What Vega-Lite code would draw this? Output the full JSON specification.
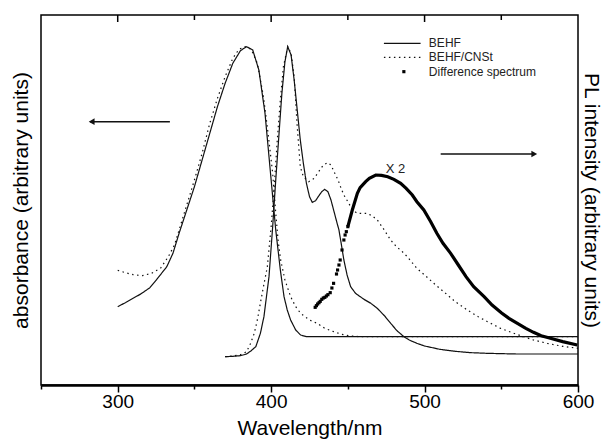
{
  "$schema": "https://vega.github.io/schema/vega-lite/v6.json",
  "width": 537,
  "height": 370,
  "autosize": {"type": "none"},
  "padding": {"left": 41, "top": 15, "right": 27, "bottom": 57},
  "config": {
    "view": {"stroke": "#000", "strokeWidth": 1.5},
    "font": "Liberation Sans",
    "axis": {"grid": false}
  },
  "datasets": {
    "abs": [
      {"x":300,"y":240,"s":"BEHF"},{"x":305,"y":252,"s":"BEHF"},{"x":310,"y":265,"s":"BEHF"},{"x":315,"y":278,"s":"BEHF"},{"x":321,"y":297,"s":"BEHF"},{"x":326,"y":325,"s":"BEHF"},{"x":332,"y":360,"s":"BEHF"},{"x":336,"y":400,"s":"BEHF"},{"x":340,"y":460,"s":"BEHF"},{"x":345,"y":530,"s":"BEHF"},{"x":350,"y":600,"s":"BEHF"},{"x":355,"y":680,"s":"BEHF"},{"x":360,"y":760,"s":"BEHF"},{"x":365,"y":840,"s":"BEHF"},{"x":370,"y":910,"s":"BEHF"},{"x":375,"y":970,"s":"BEHF"},{"x":380,"y":1008,"s":"BEHF"},{"x":384,"y":1020,"s":"BEHF"},{"x":388,"y":1010,"s":"BEHF"},{"x":392,"y":950,"s":"BEHF"},{"x":396,"y":820,"s":"BEHF"},{"x":400,"y":620,"s":"BEHF"},{"x":403,"y":470,"s":"BEHF"},{"x":406,"y":350,"s":"BEHF"},{"x":408.4,"y":270,"s":"BEHF"},{"x":410.5,"y":230,"s":"BEHF"},{"x":412.7,"y":200,"s":"BEHF"},{"x":416,"y":170,"s":"BEHF"},{"x":419.2,"y":155,"s":"BEHF"},{"x":423,"y":150,"s":"BEHF"},{"x":600,"y":150,"s":"BEHF"},
      {"x":300,"y":349,"s":"BEHF/CNSt"},{"x":305,"y":342,"s":"BEHF/CNSt"},{"x":310,"y":336,"s":"BEHF/CNSt"},{"x":316,"y":333,"s":"BEHF/CNSt"},{"x":322,"y":340,"s":"BEHF/CNSt"},{"x":328,"y":356,"s":"BEHF/CNSt"},{"x":333,"y":390,"s":"BEHF/CNSt"},{"x":337,"y":425,"s":"BEHF/CNSt"},{"x":340,"y":470,"s":"BEHF/CNSt"},{"x":345,"y":545,"s":"BEHF/CNSt"},{"x":350,"y":620,"s":"BEHF/CNSt"},{"x":355,"y":700,"s":"BEHF/CNSt"},{"x":360,"y":790,"s":"BEHF/CNSt"},{"x":365,"y":865,"s":"BEHF/CNSt"},{"x":370,"y":930,"s":"BEHF/CNSt"},{"x":375,"y":985,"s":"BEHF/CNSt"},{"x":379,"y":1012,"s":"BEHF/CNSt"},{"x":383,"y":1020,"s":"BEHF/CNSt"},{"x":387,"y":1012,"s":"BEHF/CNSt"},{"x":391,"y":970,"s":"BEHF/CNSt"},{"x":395,"y":870,"s":"BEHF/CNSt"},{"x":398,"y":760,"s":"BEHF/CNSt"},{"x":401,"y":640,"s":"BEHF/CNSt"},{"x":403,"y":520,"s":"BEHF/CNSt"},{"x":404.5,"y":440,"s":"BEHF/CNSt"},{"x":406.2,"y":380,"s":"BEHF/CNSt"},{"x":409,"y":320,"s":"BEHF/CNSt"},{"x":412.7,"y":270,"s":"BEHF/CNSt"},{"x":416,"y":240,"s":"BEHF/CNSt"},{"x":419.2,"y":220,"s":"BEHF/CNSt"},{"x":425,"y":200,"s":"BEHF/CNSt"},{"x":430,"y":190,"s":"BEHF/CNSt"},{"x":435,"y":175,"s":"BEHF/CNSt"},{"x":440.8,"y":165,"s":"BEHF/CNSt"},{"x":446,"y":157,"s":"BEHF/CNSt"},{"x":451.6,"y":152,"s":"BEHF/CNSt"},{"x":458,"y":150,"s":"BEHF/CNSt"},{"x":600,"y":150,"s":"BEHF/CNSt"}
    ],
    "pl": [
      {"x":370,"y":90,"s":"BEHF"},{"x":375,"y":91,"s":"BEHF"},{"x":380,"y":93,"s":"BEHF"},{"x":384,"y":98,"s":"BEHF"},{"x":387,"y":108,"s":"BEHF"},{"x":390,"y":120,"s":"BEHF"},{"x":393,"y":160,"s":"BEHF"},{"x":395.3,"y":210,"s":"BEHF"},{"x":398.6,"y":330,"s":"BEHF"},{"x":401,"y":480,"s":"BEHF"},{"x":403,"y":620,"s":"BEHF"},{"x":405,"y":750,"s":"BEHF"},{"x":407,"y":880,"s":"BEHF"},{"x":409,"y":975,"s":"BEHF"},{"x":410.8,"y":1020,"s":"BEHF"},{"x":413,"y":995,"s":"BEHF"},{"x":415,"y":920,"s":"BEHF"},{"x":417,"y":830,"s":"BEHF"},{"x":419,"y":740,"s":"BEHF"},{"x":421,"y":670,"s":"BEHF"},{"x":423,"y":610,"s":"BEHF"},{"x":425,"y":570,"s":"BEHF"},{"x":426.8,"y":553,"s":"BEHF"},{"x":429,"y":558,"s":"BEHF"},{"x":431,"y":572,"s":"BEHF"},{"x":433,"y":585,"s":"BEHF"},{"x":434.9,"y":592,"s":"BEHF"},{"x":437,"y":585,"s":"BEHF"},{"x":439,"y":560,"s":"BEHF"},{"x":441,"y":525,"s":"BEHF"},{"x":443,"y":490,"s":"BEHF"},{"x":444.2,"y":470,"s":"BEHF"},{"x":446,"y":420,"s":"BEHF"},{"x":447.4,"y":380,"s":"BEHF"},{"x":449.5,"y":335,"s":"BEHF"},{"x":451.8,"y":300,"s":"BEHF"},{"x":455,"y":280,"s":"BEHF"},{"x":460.5,"y":262,"s":"BEHF"},{"x":465,"y":250,"s":"BEHF"},{"x":469.2,"y":235,"s":"BEHF"},{"x":474,"y":212,"s":"BEHF"},{"x":477.9,"y":190,"s":"BEHF"},{"x":482,"y":168,"s":"BEHF"},{"x":486.5,"y":150,"s":"BEHF"},{"x":490,"y":140,"s":"BEHF"},{"x":495,"y":130,"s":"BEHF"},{"x":500,"y":122,"s":"BEHF"},{"x":510,"y":112,"s":"BEHF"},{"x":520,"y":106,"s":"BEHF"},{"x":530,"y":102,"s":"BEHF"},{"x":541,"y":100,"s":"BEHF"},{"x":560,"y":98,"s":"BEHF"},{"x":600,"y":98,"s":"BEHF"},
      {"x":370,"y":90,"s":"BEHF/CNSt"},{"x":375,"y":92,"s":"BEHF/CNSt"},{"x":380,"y":96,"s":"BEHF/CNSt"},{"x":384,"y":105,"s":"BEHF/CNSt"},{"x":386.6,"y":130,"s":"BEHF/CNSt"},{"x":389,"y":160,"s":"BEHF/CNSt"},{"x":391,"y":200,"s":"BEHF/CNSt"},{"x":393.2,"y":256,"s":"BEHF/CNSt"},{"x":395,"y":300,"s":"BEHF/CNSt"},{"x":397.5,"y":359,"s":"BEHF/CNSt"},{"x":400,"y":480,"s":"BEHF/CNSt"},{"x":402,"y":600,"s":"BEHF/CNSt"},{"x":404,"y":740,"s":"BEHF/CNSt"},{"x":406,"y":860,"s":"BEHF/CNSt"},{"x":408,"y":960,"s":"BEHF/CNSt"},{"x":410.8,"y":1020,"s":"BEHF/CNSt"},{"x":413,"y":1000,"s":"BEHF/CNSt"},{"x":415,"y":930,"s":"BEHF/CNSt"},{"x":417,"y":780,"s":"BEHF/CNSt"},{"x":419,"y":660,"s":"BEHF/CNSt"},{"x":421,"y":630,"s":"BEHF/CNSt"},{"x":424.5,"y":615,"s":"BEHF/CNSt"},{"x":428,"y":625,"s":"BEHF/CNSt"},{"x":431,"y":645,"s":"BEHF/CNSt"},{"x":434,"y":665,"s":"BEHF/CNSt"},{"x":436.9,"y":672,"s":"BEHF/CNSt"},{"x":439,"y":665,"s":"BEHF/CNSt"},{"x":441,"y":645,"s":"BEHF/CNSt"},{"x":443.6,"y":620,"s":"BEHF/CNSt"},{"x":446,"y":590,"s":"BEHF/CNSt"},{"x":448,"y":570,"s":"BEHF/CNSt"},{"x":450,"y":555,"s":"BEHF/CNSt"},{"x":453,"y":530,"s":"BEHF/CNSt"},{"x":456.2,"y":520,"s":"BEHF/CNSt"},{"x":462.7,"y":520,"s":"BEHF/CNSt"},{"x":466,"y":512,"s":"BEHF/CNSt"},{"x":469.2,"y":500,"s":"BEHF/CNSt"},{"x":473,"y":475,"s":"BEHF/CNSt"},{"x":477.9,"y":440,"s":"BEHF/CNSt"},{"x":482,"y":418,"s":"BEHF/CNSt"},{"x":484.4,"y":410,"s":"BEHF/CNSt"},{"x":488.7,"y":390,"s":"BEHF/CNSt"},{"x":495,"y":355,"s":"BEHF/CNSt"},{"x":500,"y":335,"s":"BEHF/CNSt"},{"x":506,"y":310,"s":"BEHF/CNSt"},{"x":515,"y":275,"s":"BEHF/CNSt"},{"x":520,"y":255,"s":"BEHF/CNSt"},{"x":527.8,"y":230,"s":"BEHF/CNSt"},{"x":535,"y":210,"s":"BEHF/CNSt"},{"x":541,"y":195,"s":"BEHF/CNSt"},{"x":549.5,"y":175,"s":"BEHF/CNSt"},{"x":560,"y":157,"s":"BEHF/CNSt"},{"x":571,"y":140,"s":"BEHF/CNSt"},{"x":580,"y":130,"s":"BEHF/CNSt"},{"x":590,"y":121,"s":"BEHF/CNSt"},{"x":600,"y":115,"s":"BEHF/CNSt"}
    ],
    "diffdots": [
      {"x":428.7,"y":238},{"x":429.5,"y":243},{"x":430.3,"y":248},{"x":431.2,"y":252},{"x":432,"y":256},{"x":433,"y":262},{"x":434,"y":266},{"x":435,"y":268},{"x":436,"y":272},{"x":437,"y":276},{"x":438.5,"y":282},{"x":439.6,"y":296},{"x":440.7,"y":310},{"x":442.6,"y":338},{"x":443.3,"y":350},{"x":444.2,"y":365},{"x":445,"y":380},{"x":446.2,"y":410},{"x":447.4,"y":440},{"x":448.2,"y":455},{"x":449,"y":465},{"x":450,"y":480}
    ],
    "diffline": [
      {"x":450,"y":480},{"x":452.9,"y":530},{"x":456.2,"y":580},{"x":458,"y":597},{"x":461.6,"y":615},{"x":464,"y":625},{"x":468.2,"y":635},{"x":472,"y":634},{"x":476,"y":630},{"x":480,"y":622},{"x":484.4,"y":610},{"x":488,"y":595},{"x":492,"y":575},{"x":495,"y":555},{"x":499.5,"y":530},{"x":504,"y":495},{"x":508,"y":460},{"x":512,"y":430},{"x":517,"y":400},{"x":522,"y":365},{"x":527,"y":330},{"x":532,"y":300},{"x":538.8,"y":270},{"x":544,"y":245},{"x":550,"y":222},{"x":555,"y":205},{"x":560.5,"y":190},{"x":566,"y":175},{"x":571,"y":163},{"x":576,"y":153},{"x":582,"y":145},{"x":590,"y":135},{"x":599.5,"y":125}
    ],
    "topticks": [
      {"x":300,"y":1115,"y2":1094},{"x":350,"y":1115,"y2":1100},{"x":400,"y":1115,"y2":1094},
      {"x":450,"y":1115,"y2":1100},{"x":500,"y":1115,"y2":1094},{"x":550,"y":1115,"y2":1100}
    ],
    "legline": [
      {"x":473.5,"x2":497.4,"y":1030,"s":"BEHF"},
      {"x":473.5,"x2":497.4,"y":988,"s":"BEHF/CNSt"}
    ],
    "legdot": [{"x":486.5,"y":945}],
    "legtext": [
      {"x":502.8,"y":1030,"t":"BEHF"},
      {"x":502.8,"y":988,"t":"BEHF/CNSt"},
      {"x":502.8,"y":945,"t":"Difference spectrum"}
    ],
    "arrows": [
      {"x":282,"x2":334,"y":795},
      {"x":510.5,"x2":572,"y":698}
    ],
    "heads": [
      {"x":283,"y":795,"h":"triangle-left"},
      {"x":571.5,"y":698,"h":"triangle-right"}
    ],
    "note": [{"x":481,"y":652,"t":"X 2"}]
  },
  "layer": [
    {
      "encoding": {
        "x": {
          "field": "x", "type": "quantitative",
          "scale": {"domain": [250, 600], "nice": false, "zero": false},
          "axis": {
            "orient": "bottom",
            "values": [250, 300, 350, 400, 450, 500, 550, 600],
            "labelExpr": "datum.value % 100 === 0 ? datum.label : ''",
            "tickSize": {"condition": {"test": "datum.value % 100 === 0", "value": 7}, "value": 4},
            "tickColor": "#000", "tickWidth": 1.5,
            "domainColor": "#000", "domainWidth": 2.5,
            "labelFontSize": 19, "labelColor": "#000", "labelPadding": 0, "labelFlush": false,
            "title": "Wavelength/nm", "titleFontSize": 21, "titleFontWeight": "normal", "titleColor": "#000", "titlePadding": 6
          }
        },
        "y": {
          "field": "y", "type": "quantitative",
          "scale": {"domain": [5, 1115], "nice": false, "zero": false},
          "axis": {
            "orient": "left", "ticks": false, "labels": false, "domain": false,
            "title": "absorbance (arbitrary units)", "titleFontSize": 21, "titleFontWeight": "normal", "titleColor": "#000", "titlePadding": 10
          }
        }
      },
      "layer": [
        {
          "data": {"name": "abs"},
          "mark": {"type": "line", "color": "#111", "strokeWidth": 1.2},
          "encoding": {
            "strokeDash": {"field": "s", "type": "nominal", "scale": {"domain": ["BEHF", "BEHF/CNSt"], "range": [[1, 0], [1.5, 3.5]]}, "legend": null}
          }
        },
        {
          "data": {"name": "topticks"},
          "mark": {"type": "rule", "color": "#000", "strokeWidth": 1.5},
          "encoding": {"y2": {"field": "y2"}}
        },
        {
          "data": {"name": "legline"},
          "mark": {"type": "rule", "color": "#111", "strokeWidth": 1.2},
          "encoding": {
            "x2": {"field": "x2"},
            "strokeDash": {"field": "s", "type": "nominal", "scale": {"domain": ["BEHF", "BEHF/CNSt"], "range": [[1, 0], [1.5, 3.5]]}, "legend": null}
          }
        },
        {
          "data": {"name": "legdot"},
          "mark": {"type": "point", "shape": "square", "filled": true, "size": 10, "color": "#000", "opacity": 1}
        },
        {
          "data": {"name": "legtext"},
          "mark": {"type": "text", "align": "left", "baseline": "middle", "fontSize": 12, "color": "#222"},
          "encoding": {"text": {"field": "t"}}
        },
        {
          "data": {"name": "arrows"},
          "mark": {"type": "rule", "color": "#111", "strokeWidth": 1.5},
          "encoding": {"x2": {"field": "x2"}}
        },
        {
          "data": {"name": "heads"},
          "mark": {"type": "point", "filled": true, "size": 45, "color": "#111", "opacity": 1},
          "encoding": {"shape": {"field": "h", "type": "nominal", "scale": null}}
        },
        {
          "data": {"name": "note"},
          "mark": {"type": "text", "align": "center", "baseline": "middle", "fontSize": 13, "color": "#222"},
          "encoding": {"text": {"field": "t"}}
        }
      ]
    },
    {
      "encoding": {
        "x": {
          "field": "x", "type": "quantitative",
          "scale": {"domain": [250, 600], "nice": false, "zero": false},
          "axis": null
        },
        "y": {
          "field": "y", "type": "quantitative",
          "scale": {"domain": [5, 1115], "nice": false, "zero": false},
          "axis": {
            "orient": "right", "ticks": false, "labels": false, "domain": false,
            "title": "PL intensity (arbitrary units)", "titleFontSize": 21, "titleFontWeight": "normal", "titleColor": "#000", "titlePadding": 2
          }
        }
      },
      "layer": [
        {
          "data": {"name": "pl"},
          "mark": {"type": "line", "color": "#111", "strokeWidth": 1.2},
          "encoding": {
            "strokeDash": {"field": "s", "type": "nominal", "scale": {"domain": ["BEHF", "BEHF/CNSt"], "range": [[1, 0], [1.5, 3.5]]}, "legend": null}
          }
        },
        {
          "data": {"name": "diffline"},
          "mark": {"type": "line", "color": "#000", "strokeWidth": 3.2}
        },
        {
          "data": {"name": "diffdots"},
          "mark": {"type": "point", "shape": "square", "filled": true, "size": 10, "color": "#000", "opacity": 1}
        }
      ]
    }
  ],
  "resolve": {
    "scale": {"x": "independent", "y": "independent"},
    "axis": {"x": "independent", "y": "independent"}
  }
}
